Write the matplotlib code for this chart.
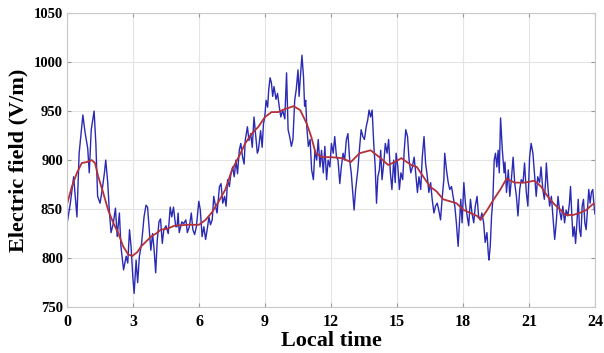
"""
Daily variation of the atmospheric electric field: raw record (blue)
and its smoothed trend (red), values read off the published figure.
"""

import matplotlib
matplotlib.use("Agg")
import matplotlib.pyplot as plt

# raw record: local time (h) and field (V/m)
raw_time = [
    0.0, 0.15, 0.3, 0.45, 0.55, 0.72, 0.82, 0.94, 1.01, 1.1, 1.23, 1.31, 1.39, 1.5,
    1.6, 1.7, 1.76, 1.85, 1.92, 2.0, 2.1, 2.2, 2.28, 2.38, 2.45, 2.57, 2.69, 2.76,
    2.84, 2.91, 2.99, 3.05, 3.14, 3.21, 3.29, 3.39, 3.5, 3.59, 3.66, 3.74, 3.81,
    3.89, 3.96, 4.03, 4.1, 4.18, 4.25, 4.33, 4.4, 4.5, 4.6, 4.69, 4.76, 4.84, 4.94,
    5.0, 5.05, 5.1, 5.22, 5.3, 5.4, 5.47, 5.56, 5.65, 5.72, 5.8, 5.88, 5.99, 6.06,
    6.14, 6.22, 6.3, 6.39, 6.45, 6.52, 6.6, 6.67, 6.75, 6.82, 6.93, 7.0, 7.08, 7.16,
    7.23, 7.3, 7.38, 7.45, 7.53, 7.6, 7.68, 7.75, 7.83, 7.9, 7.98, 8.05, 8.1, 8.2,
    8.27, 8.35, 8.42, 8.5, 8.57, 8.65, 8.7, 8.8, 8.87, 8.93, 8.99, 9.05, 9.12, 9.17,
    9.23, 9.29, 9.35, 9.41, 9.5, 9.57, 9.65, 9.72, 9.8,
    9.9, 9.98, 10.05, 10.12, 10.2, 10.27, 10.35, 10.42, 10.5, 10.55, 10.6, 10.68,
    10.75, 10.8, 10.85, 10.9, 10.97, 11.05, 11.12, 11.2, 11.27, 11.35, 11.42, 11.5,
    11.57, 11.65, 11.72, 11.8, 11.87, 11.95, 12.02, 12.1, 12.17, 12.25, 12.32, 12.4,
    12.47, 12.55, 12.62, 12.7, 12.77, 12.85, 12.92, 13.0, 13.05, 13.12, 13.22, 13.29,
    13.37, 13.45, 13.52, 13.6, 13.67, 13.73, 13.8, 13.87, 13.95, 14.01, 14.07, 14.13,
    14.2, 14.26, 14.32, 14.4, 14.47, 14.55, 14.62, 14.7, 14.77, 14.85,
    14.92, 14.96, 15.04, 15.11, 15.18, 15.26, 15.33, 15.4, 15.48, 15.55, 15.63, 15.7,
    15.78, 15.85, 15.93, 16.0, 16.08, 16.15, 16.23, 16.3, 16.38, 16.45, 16.53, 16.6,
    16.68, 16.75, 16.83, 16.9, 16.98, 17.05, 17.13, 17.17, 17.25, 17.33, 17.4, 17.48,
    17.55, 17.63, 17.7, 17.78, 17.84, 17.9, 17.96, 18.04, 18.11, 18.19, 18.26, 18.34,
    18.41, 18.49, 18.56, 18.64, 18.71, 18.79, 18.86, 18.94, 19.01, 19.09, 19.15,
    19.18, 19.24, 19.3, 19.36, 19.42, 19.48, 19.54, 19.6,
    19.65, 19.71, 19.79, 19.87, 19.91, 19.98, 20.06, 20.13, 20.2, 20.28, 20.35, 20.43,
    20.5, 20.58, 20.65, 20.73, 20.8, 20.88, 20.95, 21.03, 21.1, 21.18, 21.25, 21.33,
    21.4, 21.48, 21.55, 21.63, 21.7, 21.76, 21.79, 21.87, 21.94, 22.02, 22.09, 22.17,
    22.24, 22.32, 22.39, 22.47, 22.54, 22.62, 22.69, 22.77, 22.84, 22.89, 22.95, 23.0,
    23.06, 23.12, 23.18, 23.24, 23.3, 23.36, 23.42, 23.48, 23.54, 23.6, 23.66, 23.72,
    23.78, 23.84, 23.9, 23.96, 24.0,
]
raw_field = [
    835, 856, 883, 842, 907, 946, 928, 912, 887, 931, 950, 917, 863, 856,
    870, 887, 900, 877, 849, 826, 835, 851, 822, 846, 812, 788, 802, 795,
    829, 812, 781, 764, 798, 775, 802, 815, 842, 854, 852, 829, 808,
    825, 808, 785, 818, 837, 840, 815, 829, 833, 825, 852, 842, 852, 832,
    832, 846, 826, 837, 835, 839, 826, 832, 846, 829, 824, 832, 858, 849,
    822, 832, 819, 832, 842, 834, 839, 863, 853, 846, 873, 876, 856, 863,
    853, 880, 873, 886, 893, 883, 900, 886, 910, 917, 903, 896, 920, 934,
    920, 927, 913, 944, 927, 907, 910, 930, 913, 937, 944, 961, 954, 972,
    984, 979, 965, 975, 962, 968, 954, 944, 951,
    942, 989, 931, 924, 914, 921, 961, 972, 992, 965, 982, 1007,
    985, 955, 961, 934, 914, 921, 890, 880, 910, 900, 921, 893,
    910, 887, 914, 880, 900, 893, 917, 907, 924, 903, 900, 876,
    893, 907, 900, 921, 927, 900, 887, 863, 849, 870, 890, 910,
    931, 924, 921, 934, 941, 951, 944, 951, 914, 893, 856, 883,
    890, 910, 880, 897, 917, 907, 921, 887, 870, 900,
    877, 907, 893, 870, 887, 880, 910, 931, 924, 900, 887, 893,
    903, 887, 867, 883, 870, 903, 924, 897, 883, 867, 877, 860,
    846, 853, 856, 849, 839, 860, 880, 907, 890, 877, 870, 873,
    863, 853, 836, 812, 836, 860, 836, 877, 856, 843, 833, 860,
    846, 836, 853, 863, 843, 839, 846, 836, 816, 826, 805,
    798, 812, 843, 860, 900, 907, 893, 910,
    887, 943, 910, 887, 898, 867, 890, 863, 880, 903, 877, 863,
    843, 870, 880, 877, 897, 867, 853, 903, 917, 907, 887, 863,
    883, 877, 893, 870, 860, 880, 897, 870, 853, 863, 843, 819,
    836, 863, 849, 839, 853, 836, 849, 843, 856, 873, 843, 822,
    832, 815, 836, 860, 829, 822, 853, 860, 836, 829, 849, 870,
    856, 867, 870, 853, 845,
]

# smoothed trend
trend_time = [
    0.0, 0.22, 0.45, 0.67, 0.9, 1.12, 1.27, 1.42, 1.64, 1.87, 2.1, 2.32, 2.55, 2.77,
    2.96, 3.19, 3.37, 3.6, 3.82, 4.04, 4.27, 4.57, 4.87, 5.5, 6.0, 6.3, 6.6, 6.9,
    7.2, 7.5, 7.8, 8.1, 8.4, 8.7, 9.0, 9.3, 9.6, 9.9, 10.3, 10.6, 10.9, 11.1, 11.3,
    11.6, 12.0, 12.5, 12.9, 13.3, 13.8, 14.2, 14.6, 14.9, 15.2, 15.64, 15.9, 16.2,
    16.5, 16.8, 17.1, 17.4, 17.7, 18.04, 18.34, 18.64, 18.8, 19.1, 19.4, 19.7, 19.98,
    20.35, 20.8, 21.25, 21.55, 21.85, 22.15, 22.45, 22.65, 23.0, 23.3, 23.6, 23.9, 24.0,
]
trend_field = [
    855, 873, 887, 897, 898, 900, 897, 883, 867, 849, 836, 826, 812, 804,
    802, 806, 812, 817, 822, 825, 829, 830, 833, 834, 834, 839, 847, 858,
    870, 890, 903, 917, 927, 934, 944, 949, 949, 952, 955, 951, 937, 924, 907,
    903, 903, 902, 898, 907, 910, 903, 895, 898, 902, 895, 893, 883,
    873, 868, 860, 858, 856, 849, 846, 843, 839, 849, 860, 870, 881,
    877, 877, 879, 873, 863, 855, 849, 844, 844, 846, 849, 855, 855,
]

x_ticks = [0, 3, 6, 9, 12, 15, 18, 21, 24]
y_ticks = [750, 800, 850, 900, 950, 1000, 1050]

SERIF = ["Liberation Serif", "DejaVu Serif"]

fig = plt.figure(figsize=(6.04, 3.53), dpi=100)
ax = fig.add_axes([0.111, 0.130, 0.874, 0.833])

ax.plot(raw_time, raw_field, color="#2a2ab4", linewidth=1.0)
ax.plot(trend_time, trend_field, color="#b4303a", linewidth=1.3)

ax.set_xlim(0, 24)
ax.set_ylim(750, 1050)
ax.set_xticks(x_ticks)
ax.set_yticks(y_ticks)
ax.grid(True, color="#e4e4e4", linewidth=0.8)
ax.set_axisbelow(True)

for side in ax.spines.values():
    side.set_color("#c8c8c8")
    side.set_linewidth(0.8)

ax.tick_params(direction="in", length=3, color="#999999", top=True, right=True)
ax.tick_params(axis="x", pad=5)
ax.tick_params(axis="y", pad=3)
for lbl in ax.get_xticklabels():
    lbl.set_fontfamily(SERIF)
    lbl.set_fontweight("bold")
    lbl.set_fontsize(11.5)
for lbl in ax.get_yticklabels():
    lbl.set_fontfamily(SERIF)
    lbl.set_fontweight("bold")
    lbl.set_fontsize(10.5)

ax.set_xlabel("Local time", fontfamily=SERIF, fontweight="bold", fontsize=16, labelpad=1)
ax.set_ylabel("Electric field (V/m)", fontfamily=SERIF, fontweight="bold", fontsize=16, labelpad=4)

fig.savefig("out.png", dpi=100)
